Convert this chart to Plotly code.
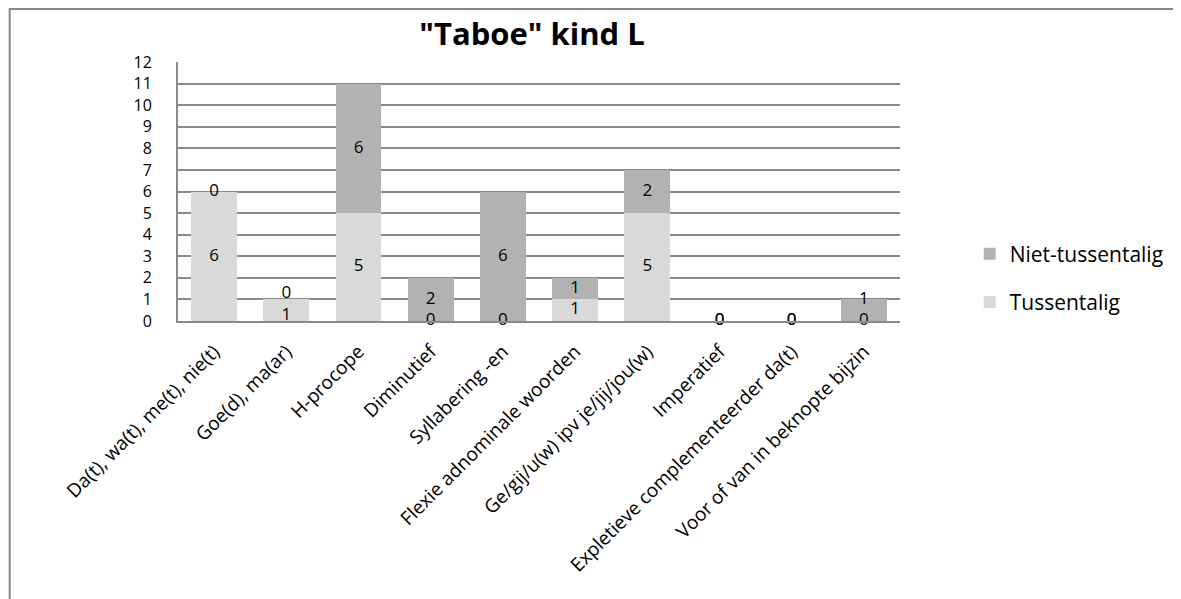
import plotly.graph_objects as go

categories = [
    "Da(t), wa(t), me(t), nie(t)",
    "Goe(d), ma(ar)",
    "H-procope",
    "Diminutief",
    "Syllabering -en",
    "Flexie adnominale woorden",
    "Ge/gij/u(w) ipv je/jij/jou(w)",
    "Imperatief",
    "Expletieve complementeerder da(t)",
    "Voor of van in beknopte bijzin",
]
tussentalig = [6, 1, 5, 0, 0, 1, 5, 0, 0, 0]
niet_tussentalig = [0, 0, 6, 2, 6, 1, 2, 0, 0, 1]
y_ticks = list(range(0, 13))

FONT = "Open Sans"
C_T = "#D9D9D9"
C_N = "#B2B2B2"
GRID = "#8A8A8A"

fig = go.Figure()
fig.add_trace(go.Bar(x=categories, y=tussentalig, name="Tussentalig",
                     marker=dict(color=C_T, line=dict(width=0)),
                     legendgroup="t", legendrank=2))
fig.add_trace(go.Bar(x=categories, y=niet_tussentalig, name="Niet-tussentalig",
                     marker=dict(color=C_N, line=dict(width=0)),
                     legendgroup="n", legendrank=1))

# data labels: centred in each segment, spread apart when they would collide
MIN_SEP = 1.0
t_lab, n_lab = [], []
for t, n in zip(tussentalig, niet_tussentalig):
    a, b = t / 2, t + n / 2
    if (t + n) > 0 and b - a < MIN_SEP:
        m = (a + b) / 2
        a = max(0.0, m - MIN_SEP / 2)
        b = a + MIN_SEP
    t_lab.append(a)
    n_lab.append(b)

fig.add_trace(go.Scatter(x=categories, y=t_lab, mode="text",
                         text=[str(v) for v in tussentalig],
                         textfont=dict(family=FONT, size=17, color="black"),
                         showlegend=False, hoverinfo="skip", cliponaxis=False))
fig.add_trace(go.Scatter(x=categories, y=n_lab, mode="text",
                         text=[str(v) for v in niet_tussentalig],
                         textfont=dict(family=FONT, size=17, color="black"),
                         showlegend=False, hoverinfo="skip", cliponaxis=False))

OFF = 8  # page body margin
L, R, T, B = 178 - OFF, 903 - OFF, 62 - OFF, 321 - OFF
W, H = 1181 - OFF, 599 - OFF
pw, ph = R - L, B - T

def px_x(p):
    return (p - L) / pw

def px_y(p):
    return (B - p) / ph

fig.update_layout(
    width=W, height=H,
    margin=dict(l=L, r=W - R, t=T, b=H - B, pad=0),
    paper_bgcolor="white", plot_bgcolor="white",
    barmode="stack", bargap=0.365,
    font=dict(family=FONT, size=17, color="black"),
    title=dict(text='<b>"Taboe" kind L</b>', x=(532 - OFF) / W, xanchor="center",
               y=1 - (34 - OFF) / H, yanchor="middle",
               font=dict(family=FONT, size=31, color="black")),
    legend=dict(x=px_x(973 - OFF), xanchor="left", y=px_y(278 - OFF), yanchor="middle",
                traceorder="grouped", tracegroupgap=18,
                font=dict(family=FONT, size=21, color="black"),
                bgcolor="rgba(0,0,0,0)"),
    showlegend=True,
    xaxis=dict(type="category", tickangle=-45, showgrid=False,
               showline=True, linecolor=GRID, linewidth=2, ticks="",
               ticklabelstandoff=10,
               tickfont=dict(family=FONT, size=19, color="black")),
    yaxis=dict(range=[0, 12], tickvals=y_ticks, showgrid=True,
               gridcolor=GRID, gridwidth=2, showline=True, linecolor=GRID,
               linewidth=2, ticks="", zeroline=False, ticklabelstandoff=21,
               tickfont=dict(family=FONT, size=16, color="black")),
    shapes=[dict(type="rect", xref="paper", yref="paper",
                 x0=px_x(1), x1=px_x(W + 20), y0=px_y(H + 20), y1=px_y(1),
                 line=dict(color="#868686", width=2), fillcolor="rgba(0,0,0,0)",
                 layer="below")],
)

fig.write_html("out.html")
